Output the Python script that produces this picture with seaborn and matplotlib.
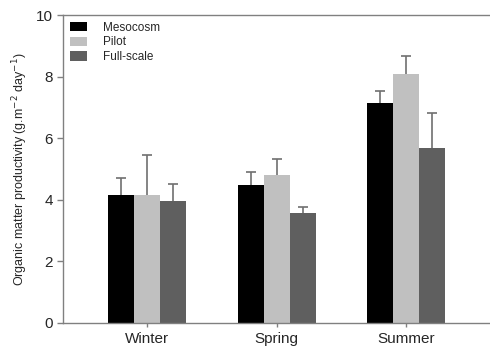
import matplotlib
matplotlib.use("Agg")
import matplotlib.pyplot as plt
import seaborn as sns
import pandas as pd

# valeurs
saisons = ["Winter", "Spring", "Summer"]
systemes = ["Mesocosm", "Pilot", "Full-scale"]
mesocosm = [4.16, 4.48, 7.13]
pilot = [4.16, 4.79, 8.07]
full_scale = [3.96, 3.58, 5.69]
err_mesocosm = [0.55, 0.43, 0.41]
err_pilot = [1.29, 0.52, 0.61]
err_full_scale = [0.55, 0.19, 1.11]

couleurs = ["#000000", "#c0c0c0", "#5f5f5f"]

donnees = pd.DataFrame({
    "Saison": saisons * 3,
    "Systeme": [s for s in systemes for _ in saisons],
    "Valeur": mesocosm + pilot + full_scale,
})
erreurs = err_mesocosm + err_pilot + err_full_scale

sns.set_style("white")
plt.rcParams["font.family"] = ["Liberation Sans", "DejaVu Sans"]

fig = plt.figure(figsize=(4.9, 3.5), dpi=100)
ax = fig.add_axes([0.129, 0.078, 0.871, 0.879])

sns.barplot(data=donnees, x="Saison", y="Valeur", hue="Systeme",
            order=saisons, hue_order=systemes, palette=couleurs,
            width=0.6, errorbar=None, saturation=1, linewidth=0, ax=ax)

# barres d'erreur (seulement vers le haut, capuchon en haut)
for patch, e in zip(ax.patches[:9], erreurs):
    cx = patch.get_x() + patch.get_width() / 2
    h = patch.get_height()
    ax.vlines(cx, h, h + e, color="#707070", linewidth=1.2, zorder=1)
    ax.plot(cx, h + e, marker="_", markersize=7, markeredgewidth=1.2,
            color="#707070", zorder=1)

ax.set_ylim(0, 10)
ax.set_xlim(-0.644, 2.644)
ax.set_yticks([0, 2, 4, 6, 8, 10])
ax.set_xlabel("")
ax.set_ylabel("Organic matter productivity (g.m$^{-2}$ day$^{-1}$)", fontsize=9)
ax.tick_params(axis="both", labelsize=11, length=4, width=1, color="#808080",
               direction="out", bottom=True, left=True)
ax.tick_params(axis="x", length=3)

for cote in ["left", "bottom", "top"]:
    ax.spines[cote].set_color("#808080")
    ax.spines[cote].set_linewidth(1)
ax.spines["right"].set_visible(False)

ax.legend(loc="upper left", frameon=False, fontsize=8.5, handlelength=1.45,
          handleheight=0.9, labelspacing=0.25, handletextpad=1.4,
          borderaxespad=0.15, bbox_to_anchor=(0.0, 1.0))

plt.savefig("out.png", dpi=100)
